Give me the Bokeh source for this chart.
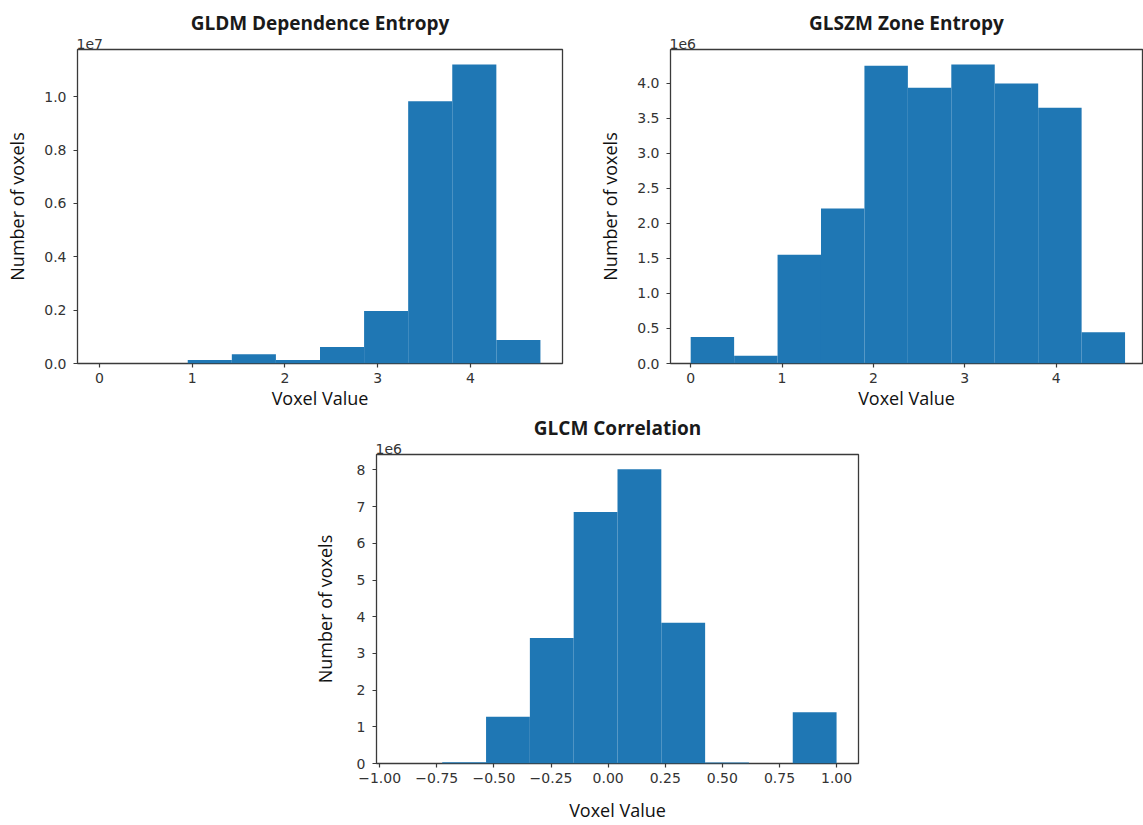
from bokeh.plotting import figure
from bokeh.layouts import column, row
from bokeh.models import Spacer, FixedTicker, Title, ColumnDataSource
from bokeh.embed import file_html
from bokeh.resources import INLINE

# ---------------- data ----------------
gldm_edges = [0.0, 0.4755, 0.951, 1.4265, 1.902, 2.3775, 2.853, 3.3285, 3.804, 4.2795, 4.755]
gldm_counts = [0, 0, 130000, 350000, 130000, 620000, 1970000, 9830000, 11210000, 880000]

glszm_edges = [0.0, 0.4755, 0.951, 1.4265, 1.902, 2.3775, 2.853, 3.3285, 3.804, 4.2795, 4.755]
glszm_counts = [380000, 109000, 1553000, 2214000, 4252000, 3938000, 4271000, 4000000, 3653000, 447000]

glcm_edges = [-0.918, -0.7262, -0.5344, -0.3426, -0.1508, 0.041, 0.2328, 0.4246, 0.6164, 0.8082, 1.0]
glcm_counts = [0, 36000, 1276000, 3417000, 6851000, 8020000, 3836000, 27000, 0, 1400000]

gldm_yticks = [0.0, 0.2, 0.4, 0.6, 0.8, 1.0]
glszm_yticks = [0.0, 0.5, 1.0, 1.5, 2.0, 2.5, 3.0, 3.5, 4.0]
glcm_yticks = [0, 1, 2, 3, 4, 5, 6, 7, 8]
entropy_xticks = [0, 1, 2, 3, 4]
glcm_xticks = [-1.0, -0.75, -0.5, -0.25, 0.0, 0.25, 0.5, 0.75, 1.0]

BAR = "#1f77b4"
TICK_FONT = "DejaVu Sans"
LABEL_FONT = "Open Sans"
FRAME = "#3a3a3a"


def hist_fig(title, edges, counts, scale, exp_label, xticks, yticks, yfmt, xfmt,
             width, height, borders, xr, title_offset, title_standoff,
             ylab_standoff, xlab_standoff):
    ymax = max(counts) * 1.05 / scale
    p = figure(width=width, height=height, output_backend="svg", toolbar_location=None,
               x_range=xr, y_range=(0, ymax), title=None,
               min_border_left=borders[0], min_border_right=borders[1],
               min_border_top=borders[2], min_border_bottom=borders[3])
    src = ColumnDataSource(dict(left=edges[:-1], right=edges[1:],
                                top=[c / scale for c in counts]))
    p.quad(left="left", right="right", bottom=0, top="top", source=src,
           fill_color=BAR, line_color=None)
    p.grid.visible = False
    p.outline_line_color = FRAME
    p.outline_line_width = 1.3
    p.background_fill_color = "white"
    p.border_fill_color = "white"

    # exponent (offset text) just above the top-left corner of the frame
    p.add_layout(Title(text=exp_label, align="left", text_font=TICK_FONT,
                       text_font_size="14px", text_font_style="normal",
                       text_color="#333333", standoff=2, offset=-1), "above")
    # chart title above it
    p.add_layout(Title(text=title, align="center", text_font=LABEL_FONT,
                       text_font_size="19px", text_font_style="bold",
                       text_color="#1a1a1a", offset=title_offset,
                       standoff=title_standoff), "above")

    for ax in (p.xaxis[0], p.yaxis[0]):
        ax.axis_line_color = None
        ax.major_tick_line_color = FRAME
        ax.major_tick_line_width = 1.2
        ax.major_tick_out = 4
        ax.major_tick_in = 0
        ax.minor_tick_line_color = None
        ax.major_label_text_font = TICK_FONT
        ax.major_label_text_font_size = "14px"
        ax.major_label_text_color = "#333333"
        ax.axis_label_text_font = LABEL_FONT
        ax.axis_label_text_font_size = "18px"
        ax.axis_label_text_font_style = "normal"
        ax.axis_label_text_color = "#111111"

    p.xaxis.axis_label = "Voxel Value"
    p.yaxis.axis_label = "Number of voxels"
    p.xaxis.ticker = FixedTicker(ticks=xticks)
    p.yaxis.ticker = FixedTicker(ticks=yticks)
    p.xaxis.major_label_overrides = {t: xfmt(t) for t in xticks}
    p.yaxis.major_label_overrides = {t: yfmt(t) for t in yticks}
    p.xaxis.major_label_standoff = 5
    p.yaxis.major_label_standoff = 7
    p.yaxis.axis_label_standoff = ylab_standoff
    p.xaxis.axis_label_standoff = xlab_standoff
    return p


def f1(t):
    return "%.1f" % t


def fint(t):
    return "%d" % t


def f2(t):
    s = "%.2f" % t
    return s.replace("-", "\u2212")


p1 = hist_fig("GLDM Dependence Entropy", gldm_edges, gldm_counts, 1e7, "1e7",
              entropy_xticks, gldm_yticks, f1, fint,
              595, 412, (77, 33, 49, 49), (-0.238, 4.993), -9, 0, 12, 0)
p2 = hist_fig("GLSZM Zone Entropy", glszm_edges, glszm_counts, 1e6, "1e6",
              entropy_xticks, glszm_yticks, f1, fint,
              548, 412, (68, 1, 49, 49), (-0.221, 4.946), -7, 0, 12, 0)
p3 = hist_fig("GLCM Correlation", glcm_edges, glcm_counts, 1e6, "1e6",
              glcm_xticks, glcm_yticks, fint, f2,
              580, 412, (76, 22, 42, 55), (-1.014, 1.096), 0, 0, 17, 12)

layout = column(row(p1, p2), row(Spacer(width=300, height=412), p3))

open("out.html", "w").write(file_html(layout, INLINE))
